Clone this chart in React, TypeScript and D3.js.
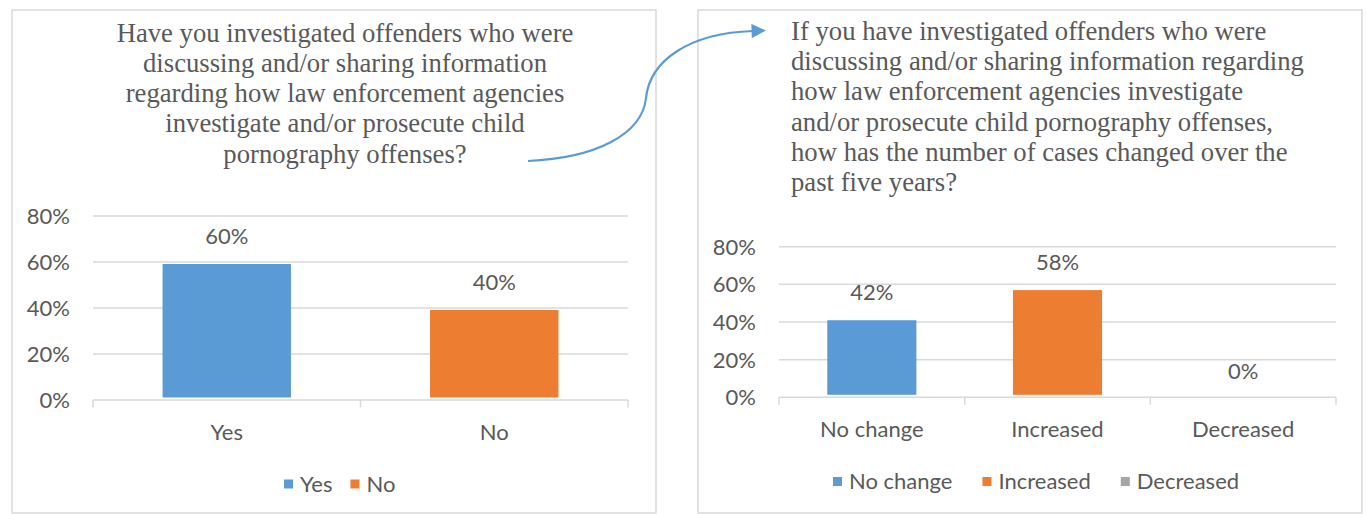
import React, { useEffect, useRef } from "react";
import * as d3 from "d3";

// ---------- data ----------
const yTicks = [0, 0.2, 0.4, 0.6, 0.8];
const leftCategories = ["Yes", "No"];
const leftValues = [0.6, 0.4];
const leftLabels = ["60%", "40%"];
const rightCategories = ["No change", "Increased", "Decreased"];
const rightValues = [0.42, 0.58, 0];
const rightLabels = ["42%", "58%", "0%"];
const seriesColors = ["#5B9BD5", "#ED7D31", "#A5A5A5"];
const leftTitle = [
  "Have you investigated offenders who were",
  "discussing and/or sharing information",
  "regarding how law enforcement agencies",
  "investigate and/or prosecute child",
  "pornography offenses?",
];
const rightTitle = [
  "If you have investigated offenders who were",
  "discussing and/or sharing information regarding",
  "how law enforcement agencies investigate",
  "and/or prosecute child pornography offenses,",
  "how has the number of cases changed over the",
  "past five years?",
];

const SANS = "Lato, 'Open Sans', sans-serif";
const SERIF = "'Liberation Serif', 'Times New Roman', serif";
const TEXT = "#595959";
const GRID = "#D9D9D9";
const FS = 22;
const TFS = 26.7;

type ChartCfg = {
  x0: number; x1: number; yTop: number; yBase: number;
  cats: string[]; vals: number[]; labels: string[];
  legendX: number; legendGap: number; legendY: number;
};

function drawChart(g: d3.Selection<SVGGElement, unknown, null, undefined>, c: ChartCfg) {
  const x = d3.scaleBand<string>().domain(c.cats).range([c.x0, c.x1]).paddingInner(0.52).paddingOuter(0.26);
  const y = d3.scaleLinear().domain([0, 0.8]).range([c.yBase, c.yTop]);

  // gridlines
  g.selectAll("line.grid").data(yTicks).join("line")
    .attr("x1", c.x0).attr("x2", c.x1)
    .attr("y1", (d) => y(d)).attr("y2", (d) => y(d))
    .attr("stroke", GRID).attr("stroke-width", 1.5);

  // category tick marks
  const edges = d3.range(c.cats.length + 1).map((i) => c.x0 + (i * (c.x1 - c.x0)) / c.cats.length);
  g.selectAll("line.tick").data(edges).join("line")
    .attr("x1", (d) => d).attr("x2", (d) => d)
    .attr("y1", c.yBase).attr("y2", c.yBase + 7.5)
    .attr("stroke", GRID).attr("stroke-width", 1.5);

  // y labels
  g.selectAll("text.ylab").data(yTicks).join("text")
    .attr("x", c.x0 - 23).attr("y", (d) => y(d)).attr("dy", "0.36em")
    .attr("text-anchor", "end").attr("font-family", SANS).attr("font-size", FS).attr("fill", TEXT)
    .text((d) => d3.format(".0%")(d));

  // bars
  g.selectAll("rect.bar").data(c.vals).join("rect")
    .attr("x", (_, i) => x(c.cats[i])!).attr("width", x.bandwidth())
    .attr("y", (d) => y(d) + 2)
    .attr("height", (d) => Math.max(0, y(0) - y(d) - 4.5))
    .attr("fill", (_, i) => seriesColors[i]);

  // data labels
  g.selectAll("text.dlab").data(c.vals).join("text")
    .attr("x", (_, i) => x(c.cats[i])! + x.bandwidth() / 2)
    .attr("y", (d) => y(d) - 26).attr("dy", "0.36em")
    .attr("text-anchor", "middle").attr("font-family", SANS).attr("font-size", FS).attr("fill", TEXT)
    .text((_, i) => c.labels[i]);

  // x labels
  g.selectAll("text.xlab").data(c.cats).join("text")
    .attr("x", (d) => x(d)! + x.bandwidth() / 2)
    .attr("y", c.yBase + 32).attr("dy", "0.36em")
    .attr("text-anchor", "middle").attr("font-family", SANS).attr("font-size", FS).attr("fill", TEXT)
    .text((d) => d);

  // legend
  let lx = c.legendX;
  c.cats.forEach((cat, i) => {
    g.append("rect").attr("x", lx).attr("y", c.legendY - 4.5).attr("width", 9).attr("height", 9)
      .attr("fill", seriesColors[i]);
    const t = g.append("text").attr("x", lx + 16).attr("y", c.legendY).attr("dy", "0.36em")
      .attr("font-family", SANS).attr("font-size", FS).attr("fill", TEXT).text(cat);
    const w = (t.node() as SVGTextElement).getComputedTextLength();
    lx += 16 + w + c.legendGap;
  });
}

export default function App() {
  const ref = useRef<SVGSVGElement>(null);
  useEffect(() => {
    const svg = d3.select(ref.current!);
    svg.selectAll("*").remove();

    // panels
    svg.append("rect").attr("x", 12).attr("y", 10).attr("width", 644).attr("height", 503)
      .attr("fill", "white").attr("stroke", GRID).attr("stroke-width", 1.5);
    svg.append("rect").attr("x", 698).attr("y", 10).attr("width", 664).attr("height", 503)
      .attr("fill", "white").attr("stroke", GRID).attr("stroke-width", 1.5);

    // titles
    const lt = svg.append("g");
    leftTitle.forEach((line, i) => {
      lt.append("text").attr("x", 345).attr("y", 41.5 + i * 30.3).attr("text-anchor", "middle")
        .attr("font-family", SERIF).attr("font-size", TFS).attr("fill", TEXT).text(line);
    });
    const rt = svg.append("g");
    rightTitle.forEach((line, i) => {
      rt.append("text").attr("x", 791).attr("y", 40 + i * 30.2)
        .attr("font-family", SERIF).attr("font-size", TFS).attr("fill", TEXT).text(line);
    });

    drawChart(svg.append("g"), {
      x0: 93, x1: 628, yTop: 216, yBase: 400,
      cats: leftCategories, vals: leftValues, labels: leftLabels,
      legendX: 284, legendGap: 18, legendY: 484,
    });
    drawChart(svg.append("g"), {
      x0: 779, x1: 1336, yTop: 246.7, yBase: 397.3,
      cats: rightCategories, vals: rightValues, labels: rightLabels,
      legendX: 833, legendGap: 30, legendY: 481.5,
    });

    // connector arrow
    const defs = svg.append("defs");
    defs.append("marker").attr("id", "ah").attr("viewBox", "0 0 10 10").attr("refX", 1).attr("refY", 5)
      .attr("markerWidth", 7).attr("markerHeight", 6.5).attr("markerUnits", "strokeWidth").attr("orient", "auto")
      .append("path").attr("d", "M0,0 L10,5 L0,10 Z").attr("fill", "#5B9BD5");
    const p = d3.path();
    p.moveTo(528, 161);
    p.bezierCurveTo(595, 158, 642, 135, 646, 98);
    p.bezierCurveTo(650, 60, 690, 33, 753, 31);
    svg.append("path").attr("d", p.toString()).attr("fill", "none").attr("stroke", "#5B9BD5")
      .attr("stroke-width", 2.2).attr("marker-end", "url(#ah)");
  }, []);
  return (
    <svg ref={ref} width={1367} height={514} style={{ position: "absolute", left: 0, top: 0, background: "white" }} />
  );
}
